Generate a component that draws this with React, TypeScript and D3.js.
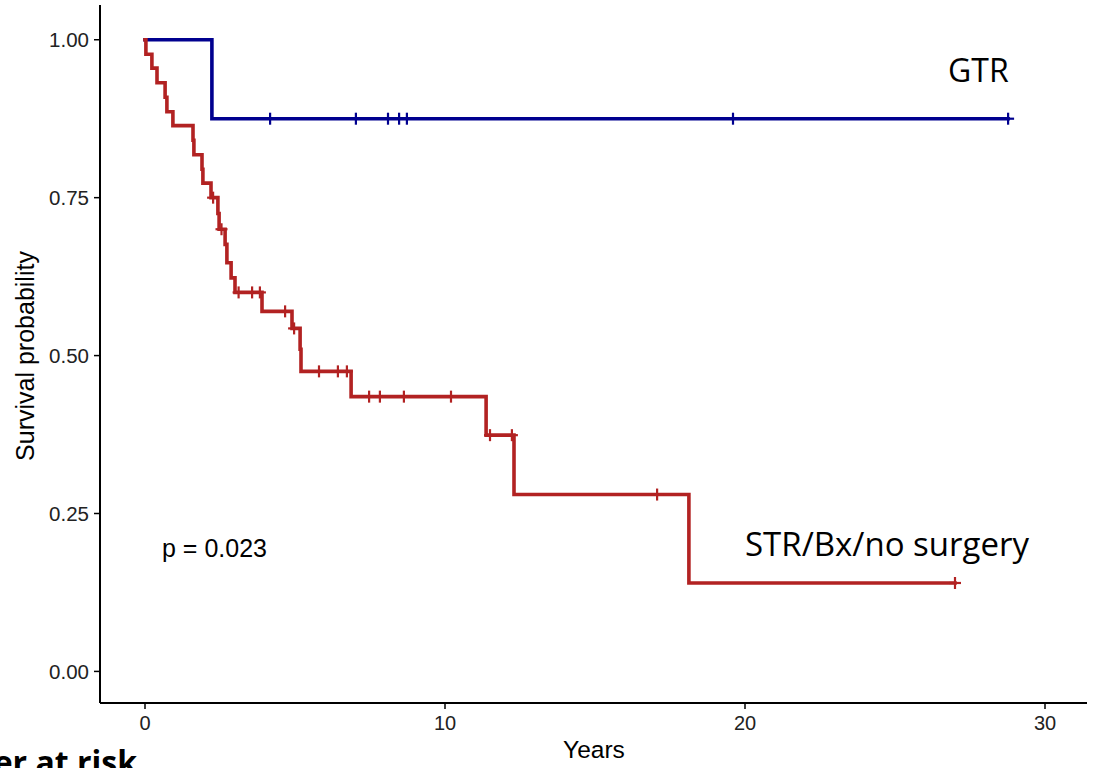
import React from "react";
import * as d3 from "d3";

// Kaplan–Meier step points (years, survival probability)
const gtrTimes = [0, 2.23];
const gtrSurv = [1, 0.875];
const gtrEnd = 28.77;
const gtrCensor = [4.17, 7.03, 8.1, 8.47, 8.73, 19.6, 28.77];

const strTimes = [
  0, 0.03, 0.23, 0.4, 0.67, 0.73, 0.93, 1.6, 1.63, 1.9, 1.93, 2.2, 2.43, 2.47,
  2.67, 2.73, 2.87, 3.0, 3.9, 4.9, 5.17, 5.2, 6.87, 11.37, 12.3, 18.13,
];
const strSurv = [
  1, 0.977, 0.955, 0.932, 0.909, 0.886, 0.864, 0.841, 0.818, 0.795, 0.773, 0.75,
  0.725, 0.7, 0.676, 0.647, 0.623, 0.6, 0.57, 0.543, 0.51, 0.475, 0.435, 0.374,
  0.28, 0.14,
];
const strEnd = 27;
const strCensor = [
  2.27, 2.55, 3.12, 3.57, 3.83, 4.67, 4.97, 5.8, 6.43, 6.73, 7.47, 7.83, 8.63,
  10.2, 11.5, 12.23, 17.07, 27,
];

const xTicks = [0, 10, 20, 30];
const yTicks = [0, 0.25, 0.5, 0.75, 1];

const W = 1098;
const H = 768;

const x = d3.scaleLinear().domain([-1.5, 31.4]).range([100, 1087]);
const y = d3.scaleLinear().domain([-0.05, 1.055]).range([703, 5]);

type Curve = { times: number[]; surv: number[]; end: number; censor: number[]; color: string };

const curves: Curve[] = [
  { times: gtrTimes, surv: gtrSurv, end: gtrEnd, censor: gtrCensor, color: "#00008F" },
  { times: strTimes, surv: strSurv, end: strEnd, censor: strCensor, color: "#B22222" },
];

function survAt(c: Curve, t: number) {
  let s = c.surv[0];
  for (let i = 0; i < c.times.length; i++) {
    if (c.times[i] <= t) s = c.surv[i];
  }
  return s;
}

const line = d3
  .line<[number, number]>()
  .x((d) => x(d[0]))
  .y((d) => y(d[1]))
  .curve(d3.curveStepAfter);

export default function App() {
  const tickFont = "'Liberation Sans', Arial, sans-serif";
  return (
    <svg
      width={W}
      height={H}
      style={{ position: "absolute", left: 0, top: 0, background: "#fff" }}
    >
      {/* axes */}
      <line x1={x.range()[0]} x2={x.range()[0]} y1={y.range()[1]} y2={y.range()[0]} stroke="#000" strokeWidth={2} />
      <line x1={x.range()[0]} x2={x.range()[1]} y1={y.range()[0]} y2={y.range()[0]} stroke="#000" strokeWidth={2} />
      {yTicks.map((v) => (
        <g key={"y" + v}>
          <line x1={x.range()[0] - 6} x2={x.range()[0]} y1={y(v)} y2={y(v)} stroke="#000" strokeWidth={1.5} />
          <text
            x={x.range()[0] - 11}
            y={y(v)}
            dy="0.36em"
            textAnchor="end"
            fontFamily={tickFont}
            fontSize={20.5}
            fill="#222"
          >
            {v.toFixed(2)}
          </text>
        </g>
      ))}
      {xTicks.map((v) => (
        <g key={"x" + v}>
          <line x1={x(v)} x2={x(v)} y1={y.range()[0]} y2={y.range()[0] + 6} stroke="#000" strokeWidth={1.5} />
          <text x={x(v)} y={730} textAnchor="middle" fontFamily={tickFont} fontSize={20} fill="#222">
            {v}
          </text>
        </g>
      ))}
      <text
        transform={`translate(34,${356}) rotate(-90)`}
        textAnchor="middle"
        fontFamily={tickFont}
        fontSize={25}
        fill="#000"
      >
        Survival probability
      </text>
      <text x={594} y={758} textAnchor="middle" fontFamily={tickFont} fontSize={24.5} fill="#000">
        Years
      </text>

      {/* survival curves */}
      {curves.map((c, i) => {
        const pts: [number, number][] = c.times.map((t, j) => [t, c.surv[j]] as [number, number]);
        pts.push([c.end, c.surv[c.surv.length - 1]]);
        return (
          <g key={"c" + i}>
            <path d={line(pts) || ""} fill="none" stroke={c.color} strokeWidth={3.6} strokeLinejoin="miter" strokeLinecap="square" />
            {c.censor.map((t, k) => {
              const cx = x(t);
              const cy = y(survAt(c, t));
              return (
                <g key={k} stroke={c.color} strokeWidth={2.2}>
                  <line x1={cx - 6} x2={cx + 6} y1={cy} y2={cy} />
                  <line x1={cx} x2={cx} y1={cy - 6} y2={cy + 6} />
                </g>
              );
            })}
          </g>
        );
      })}

      {/* annotations */}
      <text x={162} y={557} fontFamily={tickFont} fontSize={25} fill="#000">
        p = 0.023
      </text>
      <text x={948} y={82} fontFamily="'Open Sans', sans-serif" fontSize={32} fill="#000">
        GTR
      </text>
      <text x={745} y={556} fontFamily="'Open Sans', sans-serif" fontSize={33} fill="#000">
        STR/Bx/no surgery
      </text>
      <text x={137} y={774} textAnchor="end" fontFamily="'Open Sans', sans-serif" fontWeight="bold" fontSize={32} fill="#000">
        Number at risk
      </text>
    </svg>
  );
}
